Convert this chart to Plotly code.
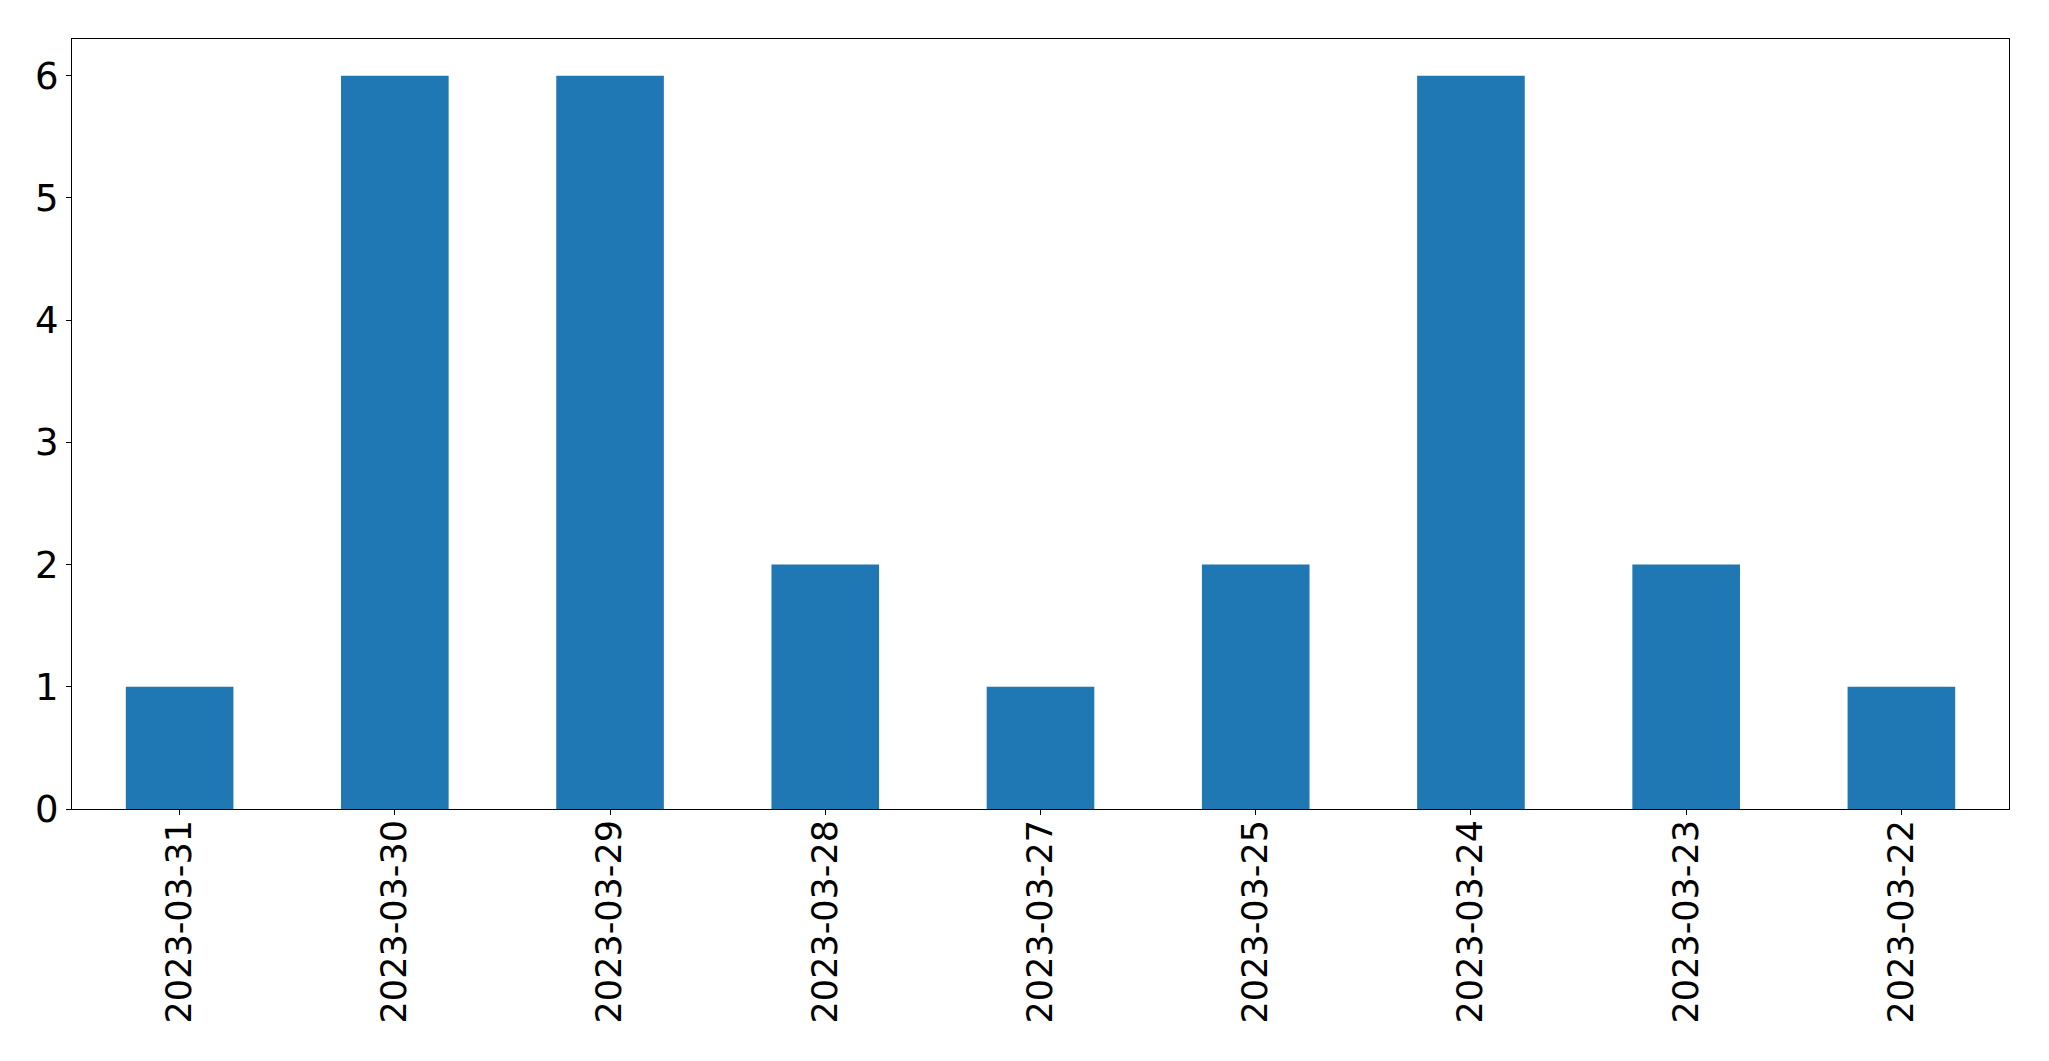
import plotly.graph_objects as go

dates = ["2023-03-31", "2023-03-30", "2023-03-29", "2023-03-28", "2023-03-27",
         "2023-03-25", "2023-03-24", "2023-03-23", "2023-03-22"]
counts = [1, 6, 6, 2, 1, 2, 6, 2, 1]

fig = go.Figure(go.Bar(x=dates, y=counts, marker_color="#1f77b4",
                       marker_line_width=0, width=0.5))

axis_style = dict(showline=True, linecolor="black", linewidth=1, mirror=True,
                  ticks="outside", ticklen=5, tickcolor="black", showgrid=False,
                  zeroline=False, automargin=False,
                  tickfont=dict(size=35, color="black"))

# page body has an 8px margin, so the figure is sized/offset to compensate
fig.update_layout(
    width=2041, height=1053,
    margin=dict(l=64, r=40, t=31, b=252),
    plot_bgcolor="white", paper_bgcolor="white",
    font=dict(family="DejaVu Sans"),
    showlegend=False,
    bargap=0.5,
)
fig.update_xaxes(type="category", range=[-0.5, 8.5], tickangle=-90,
                 ticklabelstandoff=-9, **axis_style)
fig.update_yaxes(range=[0, 6.3], dtick=1, tickfont=dict(size=37, color="black"),
                 **{k: v for k, v in axis_style.items() if k != "tickfont"})

fig.write_html("out.html")
